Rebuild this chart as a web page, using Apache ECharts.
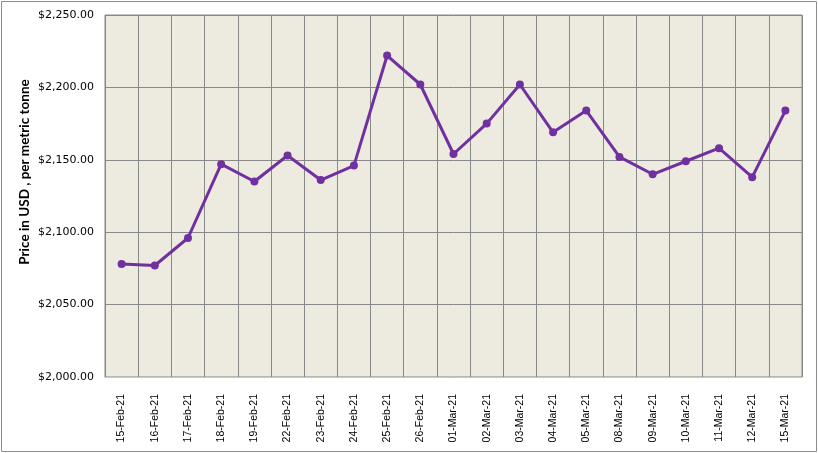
<!DOCTYPE html>
<html>
<head>
<meta charset="utf-8">
<script src="https://cdn.jsdelivr.net/npm/echarts@6/dist/echarts.min.js"></script>
<style>
  html, body { margin: 0; padding: 0; background: #fff; }
  #chart { width: 818px; height: 453px; }
</style>
</head>
<body>
<div id="chart"></div>
<script>
// dates on the x axis
var dates = ['15-Feb-21', '16-Feb-21', '17-Feb-21', '18-Feb-21', '19-Feb-21', '22-Feb-21',
  '23-Feb-21', '24-Feb-21', '25-Feb-21', '26-Feb-21', '01-Mar-21', '02-Mar-21', '03-Mar-21',
  '04-Mar-21', '05-Mar-21', '08-Mar-21', '09-Mar-21', '10-Mar-21', '11-Mar-21', '12-Mar-21',
  '15-Mar-21'];
// price, USD per metric tonne
var prices = [2078, 2077, 2096, 2147, 2135, 2153, 2136, 2146, 2222, 2202, 2154, 2175, 2202,
  2169, 2184, 2152, 2140, 2149, 2158, 2138, 2184];
var yMin = 2000, yMax = 2250, yStep = 50;
var yTitle = 'Price in USD , per metric tonne';

var chart = echarts.init(document.getElementById('chart'));
var fmt = function (v) {
  return '$' + v.toLocaleString('en-US', { minimumFractionDigits: 2, maximumFractionDigits: 2 });
};
chart.setOption({
  animation: false,
  graphic: [{
    type: 'rect',
    shape: { x: 1.5, y: 1.5, width: 815, height: 450 },
    style: { fill: 'none', stroke: '#8c8c8c', lineWidth: 1 }
  }, {
    // axis title sits a bit above the plot centre, like the original
    type: 'text',
    x: 25, y: 172,
    rotation: Math.PI / 2,
    style: {
      text: yTitle, align: 'center', verticalAlign: 'middle',
      fill: '#000', font: 'bold 13.5px Lato'
    }
  }],
  grid: {
    left: 105, right: 16, top: 15, bottom: 76,
    show: true, backgroundColor: '#EDEAE0', borderColor: '#888', borderWidth: 1
  },
  xAxis: {
    type: 'category',
    data: dates,
    boundaryGap: true,
    axisLine: { lineStyle: { color: '#b9c9e4', width: 1 } },
    axisTick: { show: false },
    splitLine: { show: true, lineStyle: { color: '#888', width: 1 } },
    axisLabel: {
      rotate: 90, interval: 0, margin: 17,
      color: '#000', fontFamily: 'Liberation Sans', fontSize: 10.5
    }
  },
  yAxis: {
    type: 'value',
    min: yMin, max: yMax, interval: yStep,
    axisLine: { show: false },
    axisTick: { show: false },
    splitLine: { lineStyle: { color: '#888', width: 1 } },
    axisLabel: {
      formatter: fmt, margin: 11,
      color: '#000', fontFamily: 'DejaVu Sans', fontSize: 11
    }
  },
  series: [{
    type: 'line',
    data: prices,
    symbol: 'circle',
    symbolSize: 8,
    lineStyle: { color: '#7030A0', width: 3 },
    itemStyle: { color: '#7030A0' }
  }]
});
</script>
</body>
</html>
